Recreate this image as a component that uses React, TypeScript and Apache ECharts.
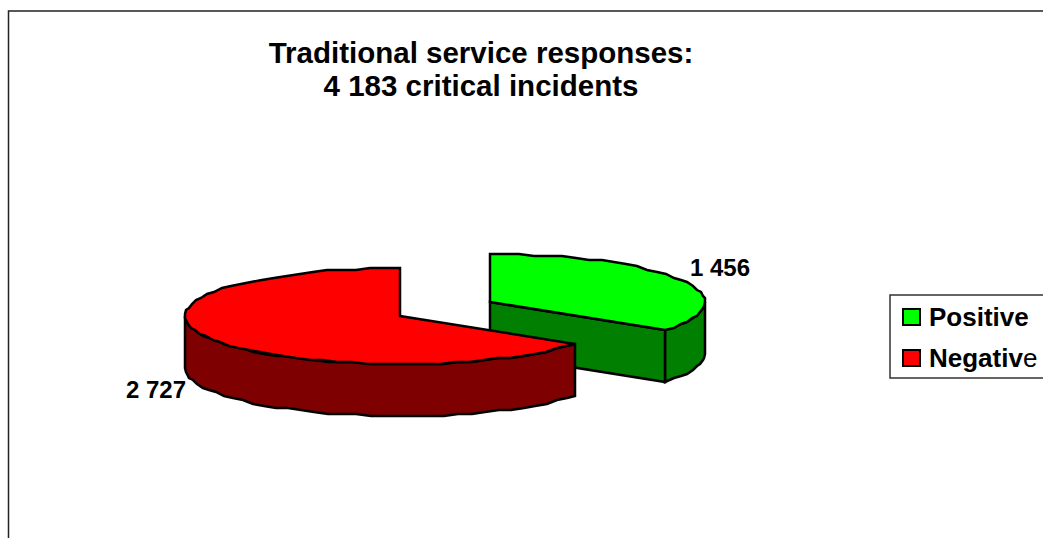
import React, { useEffect, useRef } from "react";
import * as echarts from "echarts";

const titleLines = ["Traditional service responses:", "4 183 critical incidents"];
const categories = ["Positive", "Negative"];
const values = [1456, 2727];
const valueLabels = ["1 456", "2 727"];
const topColors = ["#00ff00", "#ff0000"];
const sideColors = ["#007f00", "#7f0000"];

const FONT = "'Liberation Sans', Arial, sans-serif";
const RX = 215;
const RY = 48;
const DEPTH = 52;
const STEP = 4;
// Exploded slice centres and label anchors, per category
const centres = [[490, 302], [400, 316]];
const labelAnchors = [[690, 267, "left"], [186, 389, "right"]];

const total = values.reduce((a, b) => a + b, 0);

function rimPoint(cx: number, cy: number, deg: number, rx = RX): number[] {
  const r = (deg * Math.PI) / 180;
  // coarse pixel snap gives the faceted outline of the original
  return [Math.round(cx + rx * Math.sin(r)), Math.round((cy - RY * Math.cos(r)) / 2) * 2];
}

function arcPoints(cx: number, cy: number, from: number, to: number): number[][] {
  const pts: number[][] = [];
  const n = Math.max(1, Math.ceil(Math.abs(to - from) / STEP));
  for (let i = 0; i <= n; i++) pts.push(rimPoint(cx, cy, from + ((to - from) * i) / n));
  return pts;
}

function renderSlice(idx: number) {
  return (_params: any, api: any) => {
    const value = api.value(0);
    const before = values.slice(0, idx).reduce((a, b) => a + b, 0);
    const start = (before / total) * 360;
    const end = start + (value / total) * 360;
    const [cx, cy] = centres[idx];
    const stroke = { stroke: "#000", lineWidth: 2.5, lineJoin: "miter" };
    const children: any[] = [];

    // outer wall: the part of the rim on the near side (90deg to 270deg)
    const wallFrom = Math.max(start, 90);
    const wallTo = Math.min(end, 270);
    if (wallTo > wallFrom) {
      const top = arcPoints(cx, cy, wallFrom, wallTo);
      const bottom = top.map(([x, y]) => [x, y + DEPTH]).reverse();
      children.push({
        type: "polygon",
        shape: { points: [...top, ...bottom] },
        style: { fill: sideColors[idx], ...stroke },
      });
    }
    // cut face, visible when the slice ends on the near right side
    if (end > 90 && end < 180) {
      const p = [rimPoint(cx, cy, end)[0], Math.round(cy - RY * Math.cos((end * Math.PI) / 180))];
      children.push({
        type: "polygon",
        shape: { points: [[cx, cy], p, [p[0], p[1] + DEPTH], [cx, cy + DEPTH]] },
        style: { fill: sideColors[idx], ...stroke },
      });
    }
    // top surface
    children.push({
      type: "polygon",
      shape: { points: [[cx, cy], ...arcPoints(cx, cy, start, end)] },
      style: { fill: topColors[idx], ...stroke },
    });
    // value label
    const [lx, ly, align] = labelAnchors[idx] as [number, number, string];
    children.push({
      type: "text",
      x: lx,
      y: ly,
      style: {
        text: valueLabels[idx],
        fill: "#000",
        font: `bold 24px ${FONT}`,
        align,
        verticalAlign: "middle",
      },
    });
    return { type: "group", children };
  };
}

export default function App() {
  const ref = useRef<HTMLDivElement>(null);
  useEffect(() => {
    document.body.style.margin = "0";
    document.body.style.overflow = "hidden";
    const chart = echarts.init(ref.current!, undefined, { renderer: "svg" });
    chart.setOption({
      animation: false,
      backgroundColor: "#fff",
      title: {
        text: titleLines.join("\n"),
        left: 481,
        top: 36,
        textAlign: "center",
        padding: 0,
        textStyle: {
          fontFamily: FONT,
          fontWeight: "bold",
          fontSize: 29.5,
          lineHeight: 33,
          color: "#000",
        },
      },
      legend: {
        data: categories,
        orient: "vertical",
        left: 890,
        top: 295,
        padding: [9, 40, 7, 12],
        itemGap: 15,
        itemWidth: 17,
        itemHeight: 16,
        icon: "rect",
        borderColor: "#333",
        borderWidth: 1.5,
        backgroundColor: "#fff",
        selectedMode: false,
        formatter: (name: string) =>
          name === "Negative" ? "{b|Negativ}{r|e}" : `{b|${name}}`,
        textStyle: {
          rich: {
            b: { fontFamily: FONT, fontWeight: "bold", fontSize: 26, color: "#000", lineHeight: 28, padding: [0, 0, 0, 4] },
            r: { fontFamily: FONT, fontWeight: "normal", fontSize: 26, color: "#000", lineHeight: 28 },
          },
        },
      },
      graphic: [
        {
          type: "polyline",
          silent: true,
          z: 0,
          shape: { points: [[8.5, 538], [8.5, 11], [1043, 11]] },
          style: { stroke: "#222", lineWidth: 1.5, fill: "none" },
        },
      ],
      series: categories.map((name, i) => ({
        type: "custom",
        name,
        coordinateSystem: "none",
        data: [[values[i]]],
        itemStyle: { color: topColors[i], borderColor: "#000", borderWidth: 2 },
        renderItem: renderSlice(i),
        z: 2 + i,
      })),
    });
    return () => chart.dispose();
  }, []);
  return <div ref={ref} style={{ width: 1043, height: 538, position: "absolute", left: 0, top: 0 }} />;
}
